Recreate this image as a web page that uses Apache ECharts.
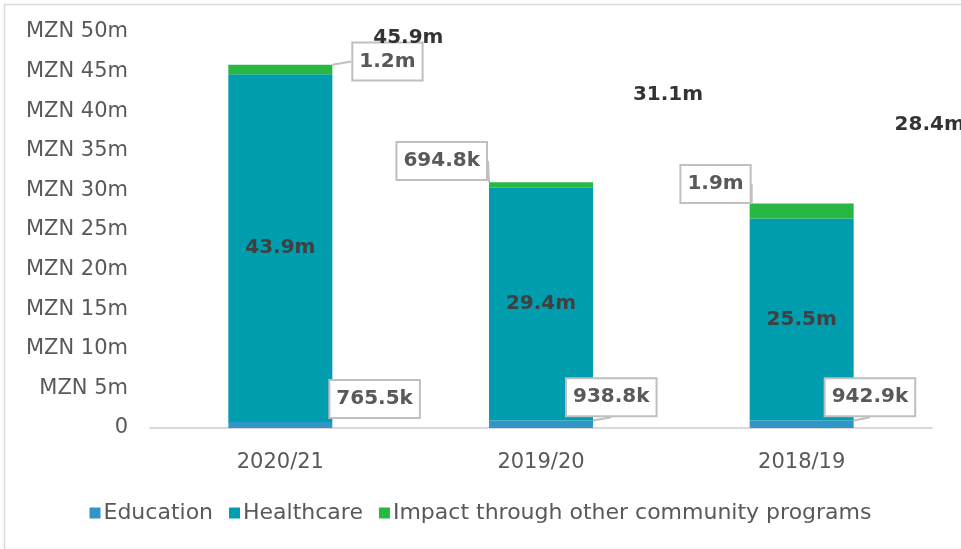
<!DOCTYPE html>
<html>
<head>
<meta charset="utf-8">
<title>Community investment by programme</title>
<script src="https://cdn.jsdelivr.net/npm/echarts@6/dist/echarts.min.js"></script>
<style>
  html, body { margin: 0; padding: 0; background: #ffffff; }
  #chart { width: 961px; height: 549px; }
</style>
</head>
<body>
<div id="chart"></div>
<script>
// Financial years (categories)
const years = ['2020/21', '2019/20', '2018/19'];

// Spend per programme, MZN millions
const education = [0.7655, 0.9388, 0.9429];
const healthcare = [43.9, 29.4, 25.5];
const otherPrograms = [1.2, 0.6948, 1.9];

// Totals shown above the stacks, MZN millions
const totals = [45.9, 31.1, 28.4];

// Y-axis ticks, MZN millions
const yTicks = [0, 5, 10, 15, 20, 25, 30, 35, 40, 45, 50];

const FONT = 'DejaVu Sans';
const GREY = '#595959';

function fmtValue(v) {
  return v < 1 ? (v * 1000).toFixed(1) + 'k' : v.toFixed(1) + 'm';
}

const calloutLabel = {
  show: true,
  fontFamily: FONT,
  fontSize: 20,
  fontWeight: 'bold',
  color: GREY,
  backgroundColor: '#ffffff',
  borderColor: '#bfbfbf',
  borderWidth: 2,
  padding: [6, 6, 6, 6],
  lineHeight: 24,
  formatter: p => fmtValue(p.value)
};
const calloutLine = {
  show: true,
  lineStyle: { color: '#bfbfbf', width: 2 }
};

// Callout shifts (px) relative to the default label anchor
const eduShift = [[-2, -26], [-26, -27], [-28, -27]];
const otherShift = [[21, -8], [-3, -24], [0, -27]];
const totalShift = [[128, -27], [127, -87], [128, -78]];

const chart = echarts.init(document.getElementById('chart'), null, { renderer: 'canvas' });

chart.setOption({
  animation: false,
  backgroundColor: '#ffffff',
  textStyle: { fontFamily: FONT },
  graphic: [{
    type: 'rect',
    left: 2, top: 2,
    shape: { width: 1000, height: 545 },
    style: { fill: 'none', stroke: '#d9d9d9', lineWidth: 1.5 },
    silent: true
  }],
  grid: { left: 150, right: 29, top: 32, bottom: 121, containLabel: false },
  legend: {
    bottom: 20,
    left: 'center',
    itemWidth: 11,
    itemHeight: 11,
    itemGap: 16,
    icon: 'rect',
    textStyle: { fontFamily: FONT, fontSize: 22, color: GREY, padding: [0, 0, 0, -2] },
    data: ['Education', 'Healthcare', 'Impact through other community programs']
  },
  xAxis: {
    type: 'category',
    data: years,
    axisLine: { lineStyle: { color: '#d9d9d9', width: 2 } },
    axisTick: { show: false },
    axisLabel: { fontFamily: FONT, fontSize: 21, color: GREY, margin: 24 }
  },
  yAxis: {
    type: 'value',
    min: yTicks[0],
    max: yTicks[yTicks.length - 1],
    interval: yTicks[1] - yTicks[0],
    splitLine: { show: false },
    axisLine: { show: false },
    axisTick: { show: false },
    axisLabel: {
      fontFamily: FONT, fontSize: 21, color: GREY, margin: 22,
      formatter: v => v === 0 ? '0' : 'MZN ' + v + 'm'
    }
  },
  series: [
    {
      name: 'Education',
      type: 'bar',
      stack: 'total',
      barWidth: 104,
      data: education,
      itemStyle: { color: '#3195c8' },
      label: Object.assign({}, calloutLabel, { position: 'right', distance: 0 }),
      labelLine: calloutLine,
      labelLayout: p => ({ dx: eduShift[p.dataIndex][0], dy: eduShift[p.dataIndex][1] })
    },
    {
      name: 'Healthcare',
      type: 'bar',
      stack: 'total',
      barWidth: 104,
      data: healthcare,
      itemStyle: { color: '#009dae' },
      label: {
        show: true,
        position: 'inside',
        fontFamily: FONT,
        fontSize: 20,
        fontWeight: 'bold',
        color: '#404040',
        formatter: p => fmtValue(p.value)
      }
    },
    {
      name: 'Impact through other community programs',
      type: 'bar',
      stack: 'total',
      barWidth: 104,
      data: otherPrograms,
      itemStyle: { color: '#27b843' },
      label: Object.assign({}, calloutLabel, {
        position: 'right',
        distance: 0
      }),
      labelLine: calloutLine,
      labelLayout: p => {
        const s = otherShift[p.dataIndex];
        if (p.dataIndex === 0) return { dx: s[0], dy: s[1] };
        // callouts to the left of the bar
        return { x: p.rect.x + s[0], y: p.rect.y + p.rect.height / 2 + s[1], align: 'right', verticalAlign: 'middle' };
      }
    },
    {
      name: 'Total',
      type: 'scatter',
      data: totals,
      symbolSize: 0,
      silent: true,
      label: {
        show: true,
        position: 'inside',
        fontFamily: FONT,
        fontSize: 20,
        fontWeight: 'bold',
        color: '#000000',
        formatter: p => p.value.toFixed(1) + 'm'
      },
      labelLayout: p => ({ dx: totalShift[p.dataIndex][0], dy: totalShift[p.dataIndex][1] })
    }
  ]
});
</script>
</body>
</html>
